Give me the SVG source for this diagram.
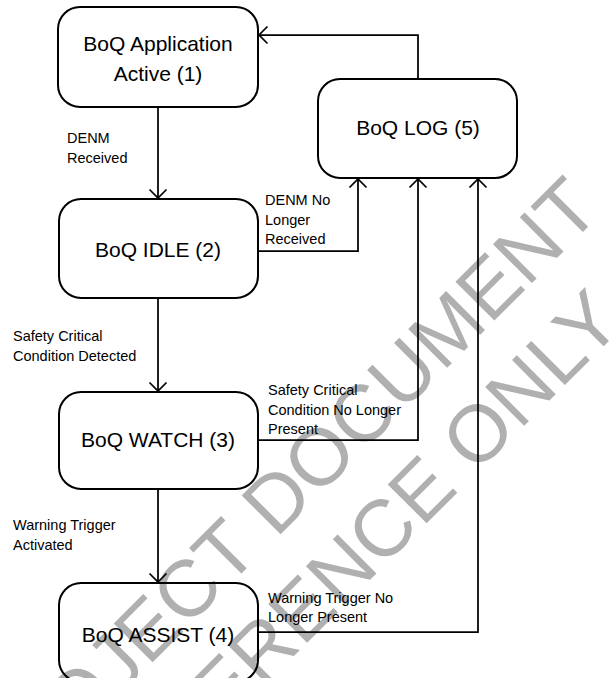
<svg xmlns="http://www.w3.org/2000/svg" width="612" height="678" viewBox="0 0 612 678">
<style>
.box{fill:none;stroke:#000;stroke-width:2}
.ntx{font-family:"Liberation Sans",Arial,sans-serif;font-size:21px;fill:#000;text-anchor:middle}
.lbl{font-family:"Liberation Sans",Arial,sans-serif;font-size:14.5px;fill:#000}
.con{fill:none;stroke:#000;stroke-width:1.75}
.wm{font-family:"Liberation Sans",Arial,sans-serif;font-size:80px;fill:#b0b0b0;text-anchor:middle}
</style>
<defs>
<marker id="arr" markerUnits="userSpaceOnUse" markerWidth="12" markerHeight="20" viewBox="0 0 12 20" refX="10" refY="10" orient="auto">
<path d="M1.5,1.5 L10,10 L1.5,18.5" fill="none" stroke="#000" stroke-width="1.75"/>
</marker>
</defs>
<rect width="612" height="678" fill="#fff"/>
<g id="watermark">
<text class="wm" transform="translate(300,515) rotate(-45)">PROJECT DOCUMENT</text>
<text class="wm" transform="translate(368,582) rotate(-45)">REFERENCE ONLY</text>
</g>
<g id="connectors">
<path class="con" d="M418,79 V35 H259" marker-end="url(#arr)"/>
<path class="con" d="M158,107 V198" marker-end="url(#arr)"/>
<path class="con" d="M258,251 H358 V179" marker-end="url(#arr)"/>
<path class="con" d="M158,298 V391" marker-end="url(#arr)"/>
<path class="con" d="M258,440 H418 V179" marker-end="url(#arr)"/>
<path class="con" d="M158,489 V582" marker-end="url(#arr)"/>
<path class="con" d="M258,632 H478 V179" marker-end="url(#arr)"/>
<text class="lbl" x="67" y="143">DENM</text>
<text class="lbl" x="67" y="163">Received</text>
<text class="lbl" x="265" y="205">DENM No</text>
<text class="lbl" x="265" y="225">Longer</text>
<text class="lbl" x="265" y="244">Received</text>
<text class="lbl" x="13" y="341">Safety Critical</text>
<text class="lbl" x="13" y="361">Condition Detected</text>
<text class="lbl" x="268" y="395">Safety Critical</text>
<text class="lbl" x="268" y="415">Condition No Longer</text>
<text class="lbl" x="268" y="434">Present</text>
<text class="lbl" x="13" y="530">Warning Trigger</text>
<text class="lbl" x="13" y="550">Activated</text>
<text class="lbl" x="268" y="603">Warning Trigger No</text>
<text class="lbl" x="268" y="622">Longer Present</text>
</g>
<g id="node1">
<rect class="box" x="58" y="7" width="200" height="100" rx="22"/>
<text class="ntx" x="158" y="51">BoQ Application</text>
<text class="ntx" x="158" y="81">Active (1)</text>
</g>
<g id="node5">
<rect class="box" x="318" y="79" width="199" height="99" rx="22"/>
<text class="ntx" x="418" y="135">BoQ LOG (5)</text>
</g>
<g id="node2">
<rect class="box" x="59" y="199" width="199" height="99" rx="22"/>
<text class="ntx" x="158" y="257">BoQ IDLE (2)</text>
</g>
<g id="node3">
<rect class="box" x="59" y="392" width="199" height="97" rx="22"/>
<text class="ntx" x="158" y="447">BoQ WATCH (3)</text>
</g>
<g id="node4">
<rect class="box" x="59" y="583" width="199" height="99" rx="22"/>
<text class="ntx" x="158" y="642">BoQ ASSIST (4)</text>
</g>
</svg>
